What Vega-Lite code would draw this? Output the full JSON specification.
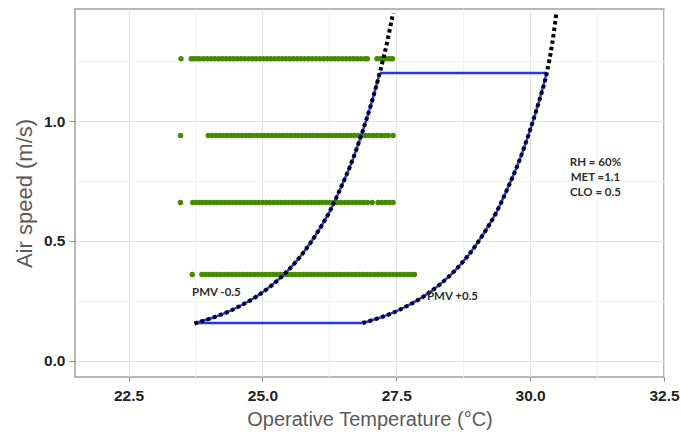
{
  "$schema": "https://vega.github.io/schema/vega-lite/v6.json",
  "width": 589,
  "height": 368,
  "autosize": "none",
  "padding": {"left": 75, "top": 9, "right": 17, "bottom": 55},
  "background": "white",
  "config": {"view": {"stroke": "#a0a0a0", "strokeWidth": 1.5}},
  "datasets": {
    "pts": [
      {"t":23.48,"v":1.26},{"t":23.67,"v":1.26},{"t":23.72,"v":1.26},{"t":23.78,"v":1.26},{"t":23.83,"v":1.26},
      {"t":23.90,"v":1.26},{"t":23.97,"v":1.26},{"t":24.04,"v":1.26},{"t":24.11,"v":1.26},{"t":24.18,"v":1.26},{"t":24.25,"v":1.26},{"t":24.32,"v":1.26},{"t":24.39,"v":1.26},{"t":24.46,"v":1.26},{"t":24.53,"v":1.26},{"t":24.60,"v":1.26},{"t":24.67,"v":1.26},{"t":24.74,"v":1.26},{"t":24.81,"v":1.26},{"t":24.88,"v":1.26},{"t":24.95,"v":1.26},{"t":25.02,"v":1.26},{"t":25.09,"v":1.26},{"t":25.16,"v":1.26},{"t":25.23,"v":1.26},{"t":25.30,"v":1.26},{"t":25.37,"v":1.26},{"t":25.44,"v":1.26},{"t":25.51,"v":1.26},{"t":25.58,"v":1.26},{"t":25.65,"v":1.26},{"t":25.72,"v":1.26},{"t":25.79,"v":1.26},{"t":25.86,"v":1.26},{"t":25.93,"v":1.26},{"t":26.00,"v":1.26},{"t":26.07,"v":1.26},{"t":26.14,"v":1.26},{"t":26.21,"v":1.26},{"t":26.28,"v":1.26},{"t":26.35,"v":1.26},{"t":26.42,"v":1.26},{"t":26.49,"v":1.26},{"t":26.56,"v":1.26},{"t":26.63,"v":1.26},{"t":26.70,"v":1.26},{"t":26.77,"v":1.26},{"t":26.84,"v":1.26},{"t":26.91,"v":1.26},{"t":26.96,"v":1.26},
      {"t":27.14,"v":1.26},{"t":27.20,"v":1.26},{"t":27.26,"v":1.26},{"t":27.32,"v":1.26},{"t":27.38,"v":1.26},{"t":27.43,"v":1.26},
      {"t":23.47,"v":0.94},
      {"t":23.99,"v":0.94},{"t":24.06,"v":0.94},{"t":24.13,"v":0.94},{"t":24.20,"v":0.94},{"t":24.27,"v":0.94},{"t":24.34,"v":0.94},{"t":24.41,"v":0.94},{"t":24.48,"v":0.94},{"t":24.55,"v":0.94},{"t":24.62,"v":0.94},{"t":24.69,"v":0.94},{"t":24.76,"v":0.94},{"t":24.83,"v":0.94},{"t":24.90,"v":0.94},{"t":24.97,"v":0.94},{"t":25.04,"v":0.94},{"t":25.11,"v":0.94},{"t":25.18,"v":0.94},{"t":25.25,"v":0.94},{"t":25.32,"v":0.94},{"t":25.39,"v":0.94},{"t":25.46,"v":0.94},{"t":25.53,"v":0.94},{"t":25.60,"v":0.94},{"t":25.67,"v":0.94},{"t":25.74,"v":0.94},{"t":25.81,"v":0.94},{"t":25.88,"v":0.94},{"t":25.95,"v":0.94},{"t":26.02,"v":0.94},{"t":26.09,"v":0.94},{"t":26.16,"v":0.94},{"t":26.23,"v":0.94},{"t":26.30,"v":0.94},{"t":26.37,"v":0.94},{"t":26.44,"v":0.94},{"t":26.51,"v":0.94},{"t":26.58,"v":0.94},{"t":26.65,"v":0.94},{"t":26.72,"v":0.94},{"t":26.79,"v":0.94},{"t":26.86,"v":0.94},{"t":26.93,"v":0.94},{"t":27.00,"v":0.94},{"t":27.07,"v":0.94},{"t":27.14,"v":0.94},{"t":27.21,"v":0.94},{"t":27.28,"v":0.94},{"t":27.35,"v":0.94},{"t":27.44,"v":0.94},
      {"t":23.47,"v":0.66},{"t":23.70,"v":0.66},{"t":23.77,"v":0.66},{"t":23.83,"v":0.66},{"t":23.88,"v":0.66},
      {"t":23.95,"v":0.66},{"t":24.02,"v":0.66},{"t":24.09,"v":0.66},{"t":24.16,"v":0.66},{"t":24.23,"v":0.66},{"t":24.30,"v":0.66},{"t":24.37,"v":0.66},{"t":24.44,"v":0.66},{"t":24.51,"v":0.66},{"t":24.58,"v":0.66},{"t":24.65,"v":0.66},{"t":24.72,"v":0.66},{"t":24.79,"v":0.66},{"t":24.86,"v":0.66},{"t":24.93,"v":0.66},{"t":25.00,"v":0.66},{"t":25.07,"v":0.66},{"t":25.14,"v":0.66},{"t":25.21,"v":0.66},{"t":25.28,"v":0.66},{"t":25.35,"v":0.66},{"t":25.42,"v":0.66},{"t":25.49,"v":0.66},{"t":25.56,"v":0.66},{"t":25.63,"v":0.66},{"t":25.70,"v":0.66},{"t":25.77,"v":0.66},{"t":25.84,"v":0.66},{"t":25.91,"v":0.66},{"t":25.98,"v":0.66},{"t":26.05,"v":0.66},{"t":26.12,"v":0.66},{"t":26.19,"v":0.66},{"t":26.26,"v":0.66},{"t":26.33,"v":0.66},{"t":26.40,"v":0.66},{"t":26.47,"v":0.66},{"t":26.54,"v":0.66},{"t":26.61,"v":0.66},{"t":26.68,"v":0.66},{"t":26.75,"v":0.66},{"t":26.82,"v":0.66},{"t":26.89,"v":0.66},{"t":26.96,"v":0.66},{"t":27.05,"v":0.66},
      {"t":27.16,"v":0.66},{"t":27.23,"v":0.66},{"t":27.30,"v":0.66},{"t":27.37,"v":0.66},{"t":27.44,"v":0.66},
      {"t":23.69,"v":0.36},
      {"t":23.87,"v":0.36},{"t":23.94,"v":0.36},{"t":24.01,"v":0.36},{"t":24.08,"v":0.36},{"t":24.15,"v":0.36},{"t":24.22,"v":0.36},{"t":24.29,"v":0.36},{"t":24.36,"v":0.36},{"t":24.43,"v":0.36},{"t":24.50,"v":0.36},{"t":24.57,"v":0.36},{"t":24.64,"v":0.36},{"t":24.71,"v":0.36},{"t":24.78,"v":0.36},{"t":24.85,"v":0.36},{"t":24.92,"v":0.36},{"t":24.99,"v":0.36},{"t":25.06,"v":0.36},{"t":25.13,"v":0.36},{"t":25.20,"v":0.36},{"t":25.27,"v":0.36},{"t":25.34,"v":0.36},{"t":25.41,"v":0.36},{"t":25.48,"v":0.36},{"t":25.55,"v":0.36},{"t":25.62,"v":0.36},{"t":25.69,"v":0.36},{"t":25.76,"v":0.36},{"t":25.83,"v":0.36},{"t":25.90,"v":0.36},{"t":25.97,"v":0.36},{"t":26.04,"v":0.36},{"t":26.11,"v":0.36},{"t":26.18,"v":0.36},{"t":26.25,"v":0.36},{"t":26.32,"v":0.36},{"t":26.39,"v":0.36},{"t":26.46,"v":0.36},{"t":26.53,"v":0.36},{"t":26.60,"v":0.36},{"t":26.67,"v":0.36},{"t":26.74,"v":0.36},{"t":26.81,"v":0.36},{"t":26.88,"v":0.36},{"t":26.95,"v":0.36},{"t":27.02,"v":0.36},{"t":27.09,"v":0.36},{"t":27.16,"v":0.36},{"t":27.23,"v":0.36},{"t":27.30,"v":0.36},{"t":27.37,"v":0.36},{"t":27.44,"v":0.36},{"t":27.51,"v":0.36},{"t":27.58,"v":0.36},{"t":27.65,"v":0.36},{"t":27.72,"v":0.36},{"t":27.79,"v":0.36},{"t":27.84,"v":0.36}
    ],
    "blue": [
      {"seg":"bottom","t":23.78,"v":0.158},{"seg":"bottom","t":26.87,"v":0.158},
      {"seg":"top","t":27.19,"v":1.2},{"seg":"top","t":30.31,"v":1.2},
      {"seg":"left","t":23.78,"v":0.16},{"seg":"left","t":24.07,"v":0.18},{"seg":"left","t":24.31,"v":0.20},{"seg":"left","t":24.59,"v":0.23},{"seg":"left","t":24.90,"v":0.27},{"seg":"left","t":25.20,"v":0.32},{"seg":"left","t":25.49,"v":0.38},{"seg":"left","t":25.76,"v":0.45},{"seg":"left","t":26.01,"v":0.53},{"seg":"left","t":26.25,"v":0.62},{"seg":"left","t":26.46,"v":0.72},{"seg":"left","t":26.67,"v":0.83},{"seg":"left","t":26.86,"v":0.95},{"seg":"left","t":27.03,"v":1.07},{"seg":"left","t":27.19,"v":1.2},
      {"seg":"right","t":26.87,"v":0.158},{"seg":"right","t":27.19,"v":0.18},{"seg":"right","t":27.43,"v":0.20},{"seg":"right","t":27.71,"v":0.23},{"seg":"right","t":28.02,"v":0.27},{"seg":"right","t":28.32,"v":0.32},{"seg":"right","t":28.61,"v":0.38},{"seg":"right","t":28.88,"v":0.45},{"seg":"right","t":29.13,"v":0.53},{"seg":"right","t":29.37,"v":0.62},{"seg":"right","t":29.58,"v":0.72},{"seg":"right","t":29.79,"v":0.83},{"seg":"right","t":29.98,"v":0.95},{"seg":"right","t":30.15,"v":1.07},{"seg":"right","t":30.31,"v":1.2}
    ],
    "pmv": [
      {"c":"minus","t":23.73,"v":0.156},{"c":"minus","t":24.07,"v":0.18},{"c":"minus","t":24.31,"v":0.20},{"c":"minus","t":24.59,"v":0.23},{"c":"minus","t":24.90,"v":0.27},{"c":"minus","t":25.20,"v":0.32},{"c":"minus","t":25.49,"v":0.38},{"c":"minus","t":25.76,"v":0.45},{"c":"minus","t":26.01,"v":0.53},{"c":"minus","t":26.25,"v":0.62},{"c":"minus","t":26.46,"v":0.72},{"c":"minus","t":26.67,"v":0.83},{"c":"minus","t":26.86,"v":0.95},{"c":"minus","t":27.03,"v":1.07},{"c":"minus","t":27.19,"v":1.2},{"c":"minus","t":27.32,"v":1.32},{"c":"minus","t":27.44,"v":1.45},
      {"c":"plus","t":26.87,"v":0.158},{"c":"plus","t":27.19,"v":0.18},{"c":"plus","t":27.43,"v":0.20},{"c":"plus","t":27.71,"v":0.23},{"c":"plus","t":28.02,"v":0.27},{"c":"plus","t":28.32,"v":0.32},{"c":"plus","t":28.61,"v":0.38},{"c":"plus","t":28.88,"v":0.45},{"c":"plus","t":29.13,"v":0.53},{"c":"plus","t":29.37,"v":0.62},{"c":"plus","t":29.58,"v":0.72},{"c":"plus","t":29.79,"v":0.83},{"c":"plus","t":29.98,"v":0.95},{"c":"plus","t":30.15,"v":1.07},{"c":"plus","t":30.31,"v":1.2},{"c":"plus","t":30.41,"v":1.32},{"c":"plus","t":30.49,"v":1.45}
    ],
    "labels": [
      {"t":24.14,"v":0.283,"label":"PMV -0.5"},
      {"t":28.55,"v":0.267,"label":"PMV +0.5"},
      {"t":31.22,"v":0.825,"label":"RH = 60%"},
      {"t":31.22,"v":0.7625,"label":"MET =1.1"},
      {"t":31.22,"v":0.70,"label":"CLO = 0.5"}
    ]
  },
  "encoding": {
    "x": {
      "field": "t", "type": "quantitative",
      "title": "Operative Temperature (°C)",
      "scale": {"domain": [21.5, 32.5], "nice": false, "zero": false},
      "axis": {
        "values": [22.5, 23.75, 25, 26.25, 27.5, 28.75, 30, 31.25, 32.5],
        "format": ".1f",
        "labelExpr": "(datum.value*2)%5 != 0 ? '' : datum.label",
        "labelOverlap": false,
        "labelFlush": false,
        "grid": true,
        "gridColor": {"condition": {"test": "(datum.value*2)%5 != 0", "value": "#f3f3f3"}, "value": "#e3e3e3"},
        "tickOpacity": {"condition": {"test": "(datum.value*2)%5 != 0", "value": 0}, "value": 1},
        "domain": false,
        "tickColor": "#888888",
        "tickSize": 4,
        "labelFont": "Liberation Sans",
        "labelFontWeight": "bold",
        "labelFontSize": 15.5,
        "labelColor": "#222222",
        "labelPadding": 7,
        "titleFont": "Liberation Sans",
        "titleFontWeight": "normal",
        "titleFontSize": 20,
        "titleColor": "#5a5a5a",
        "titlePadding": 6
      }
    },
    "y": {
      "field": "v", "type": "quantitative",
      "title": "Air speed (m/s)",
      "scale": {"domain": [-0.067, 1.467], "nice": false, "zero": false},
      "axis": {
        "values": [0, 0.25, 0.5, 0.75, 1, 1.25],
        "format": ".1f",
        "labelExpr": "(datum.value*4)%2 != 0 ? '' : datum.label",
        "labelOverlap": false,
        "labelFlush": false,
        "grid": true,
        "gridColor": {"condition": {"test": "(datum.value*4)%2 != 0", "value": "#f3f3f3"}, "value": "#e3e3e3"},
        "tickOpacity": {"condition": {"test": "(datum.value*4)%2 != 0", "value": 0}, "value": 1},
        "domain": false,
        "tickColor": "#888888",
        "tickSize": 6,
        "labelFont": "Liberation Sans",
        "labelFontWeight": "bold",
        "labelFontSize": 15.5,
        "labelColor": "#222222",
        "labelPadding": 4,
        "titleFont": "Liberation Sans",
        "titleFontWeight": "normal",
        "titleFontSize": 22,
        "titleColor": "#5a5a5a",
        "titlePadding": 7
      }
    }
  },
  "layer": [
    {
      "data": {"name": "pts"},
      "mark": {"type": "circle", "size": 30, "color": "#458B00", "opacity": 1}
    },
    {
      "data": {"name": "blue"},
      "mark": {"type": "line", "color": "#2437ee", "strokeWidth": 2.5, "interpolate": "monotone"},
      "encoding": {"detail": {"field": "seg"}}
    },
    {
      "data": {"name": "pmv"},
      "mark": {"type": "line", "color": "#000000", "strokeWidth": 4, "strokeDash": [3.5, 3], "strokeCap": "butt", "interpolate": "monotone"},
      "encoding": {"detail": {"field": "c"}}
    },
    {
      "data": {"name": "labels"},
      "mark": {"type": "text", "font": "Lato", "fontWeight": "bold", "fontSize": 11.5, "color": "#2f2f2f", "align": "center", "baseline": "middle"},
      "encoding": {"text": {"field": "label"}}
    }
  ]
}
